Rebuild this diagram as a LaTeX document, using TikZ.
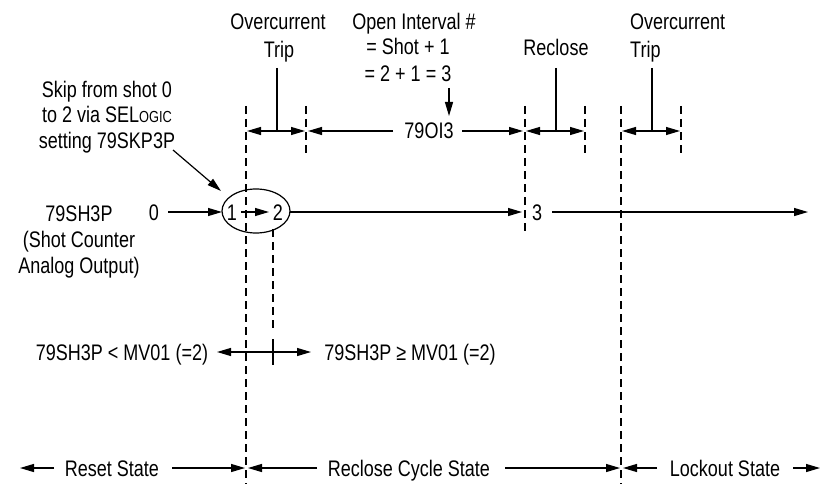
\documentclass[tikz,border=0pt]{standalone}
\usepackage{fontspec}
\setmainfont{Liberation Sans}[FakeStretch=0.8]
\usetikzlibrary{arrows.meta,shapes.geometric}
\begin{document}
\begin{tikzpicture}[x=1pt,y=-1pt,
  ln/.style={line width=1.2pt},
  arr/.style={line width=1.2pt,-{Triangle[length=14pt,width=8pt]}},
  dsh/.style={line width=1.1pt,dash pattern=on 8pt off 5pt},
  txt/.style={inner sep=0pt,anchor=base,font=\fontsize{22.5}{26}\selectfont},
  txtl/.style={txt,anchor=base west}]
\useasboundingbox (0,0) rectangle (821,484);

% ---- top labels
\node[txt] (oc1a) at (278,30) {Overcurrent};
\node[txt] (oc1b) at (279,58) {Trip};
\node[txt] (oia) at (414,30) {Open Interval \#};
\node[txt] (oib) at (408,55) {= Shot + 1};
\node[txt] (oic) at (408,82) {= 2 + 1 = 3};
\node[txt] (rec) at (556,56) {Reclose};
\node[txtl] (oc2a) at (630,30) {Overcurrent};
\node[txtl] (oc2b) at (630,58) {Trip};

\node[txt] (ska) at (107,98) {Skip from shot 0};
\node[txt] (skb) at (107,123) {to 2 via SEL{\fontsize{16}{16}\selectfont OGIC}};
\node[txt] (skc) at (107,148) {setting 79SKP3P};

\node[txt] (oi3) at (429,139) {79OI3};

% ---- dashed verticals
\coordinate (d1t) at (246,106); \coordinate (d1b) at (246,484);
\coordinate (d2t) at (306,106); \coordinate (d2b) at (306,155);
\coordinate (d3t) at (525,106); \coordinate (d3b) at (525,234);
\coordinate (d4t) at (585,106); \coordinate (d4b) at (585,155);
\coordinate (d5t) at (621,106); \coordinate (d5b) at (621,484);
\coordinate (d6t) at (681,106); \coordinate (d6b) at (681,155);
\coordinate (d7t) at (273,229); \coordinate (d7b) at (273,328);
\foreach \i in {1,...,7} \draw[dsh] (d\i t) -- (d\i b);

% ---- interval markers
\coordinate (v1t) at (277,68); \coordinate (v1b) at (277,131);
\coordinate (v2t) at (556,68); \coordinate (v2b) at (556,131);
\coordinate (v3t) at (652,68); \coordinate (v3b) at (652,131);
\draw[ln] (v1t) -- (v1b);
\draw[ln] (v2t) -- (v2b);
\draw[ln] (v3t) -- (v3b);
\coordinate (a1l) at (247,131); \coordinate (a1r) at (305,131);
\coordinate (a2l) at (526,131); \coordinate (a2r) at (584,131);
\coordinate (a3l) at (622,131); \coordinate (a3r) at (680,131);
\draw[arr] (v1b) -- (a1l); \draw[arr] (v1b) -- (a1r);
\draw[arr] (v2b) -- (a2l); \draw[arr] (v2b) -- (a2r);
\draw[arr] (v3b) -- (a3l); \draw[arr] (v3b) -- (a3r);

\coordinate (oil1) at (393,131); \coordinate (oil2) at (308,131);
\coordinate (oir1) at (462,131); \coordinate (oir2) at (523,131);
\draw[arr] (oil1) -- (oil2);
\draw[arr] (oir1) -- (oir2);
\coordinate (dn1) at (449,88); \coordinate (dn2) at (449,116);
\draw[arr] (dn1) -- (dn2);

% ---- shot counter line
\node[txt] (sha) at (79,221) {79SH3P};
\node[txt] (shb) at (79,247) {(Shot Counter};
\node[txt] (shc) at (79,273) {Analog Output)};
\node[txt] (s0) at (154,220) {0};
\node[draw,line width=1.2pt,ellipse,minimum width=68pt,minimum height=44pt,inner sep=0pt] (ell) at (256,211) {};
\node[txt] (s1) at (232,220) {1};
\node[txt] (s2) at (278,220) {2};
\node[txt] (s3) at (537,220) {3};
\coordinate (l0) at (168,212); \coordinate (l0e) at (222,212);
\draw[arr] (l0) -- (l0e);
\coordinate (l1) at (241,212); \coordinate (l1e) at (269,212);
\draw[arr] (l1) -- (l1e);
\coordinate (l2) at (290,212); \coordinate (l2e) at (522,212);
\draw[arr] (l2) -- (l2e);
\coordinate (l3) at (552,212); \coordinate (l3e) at (808,212);
\draw[arr] (l3) -- (l3e);

\coordinate (sk1) at (173,150); \coordinate (sk2) at (221,191);
\draw[arr] (sk1) -- (sk2);

% ---- MV01 comparison
\node[txt] (lt) at (122,360) {79SH3P < MV01 (=2)};
\node[txt] (ge) at (410,360) {79SH3P ≥ MV01 (=2)};
\coordinate (tk) at (273,352);
\coordinate (tkt) at (273,339); \coordinate (tkb) at (273,365);
\draw[line width=2.6pt] (tkt) -- (tkb);
\coordinate (mvl) at (217,352); \coordinate (mvr) at (311,352);
\draw[arr] (tk) -- (mvl);
\draw[arr] (tk) -- (mvr);

% ---- states
\node[txt] (rs) at (112,476) {Reset State};
\node[txt] (rcs) at (409,476) {Reclose Cycle State};
\node[txt] (los) at (725,476) {Lockout State};
\coordinate (b1) at (54,468); \coordinate (b1e) at (20,468);
\coordinate (b2) at (172,468); \coordinate (b2e) at (245,468);
\coordinate (b3) at (317,468); \coordinate (b3e) at (248,468);
\coordinate (b4) at (505,468); \coordinate (b4e) at (620,468);
\coordinate (b5) at (657,468); \coordinate (b5e) at (623,468);
\coordinate (b6) at (793,468); \coordinate (b6e) at (820,468);
\foreach \i in {1,...,6} \draw[arr] (b\i) -- (b\i e);
\end{tikzpicture}
\end{document}
